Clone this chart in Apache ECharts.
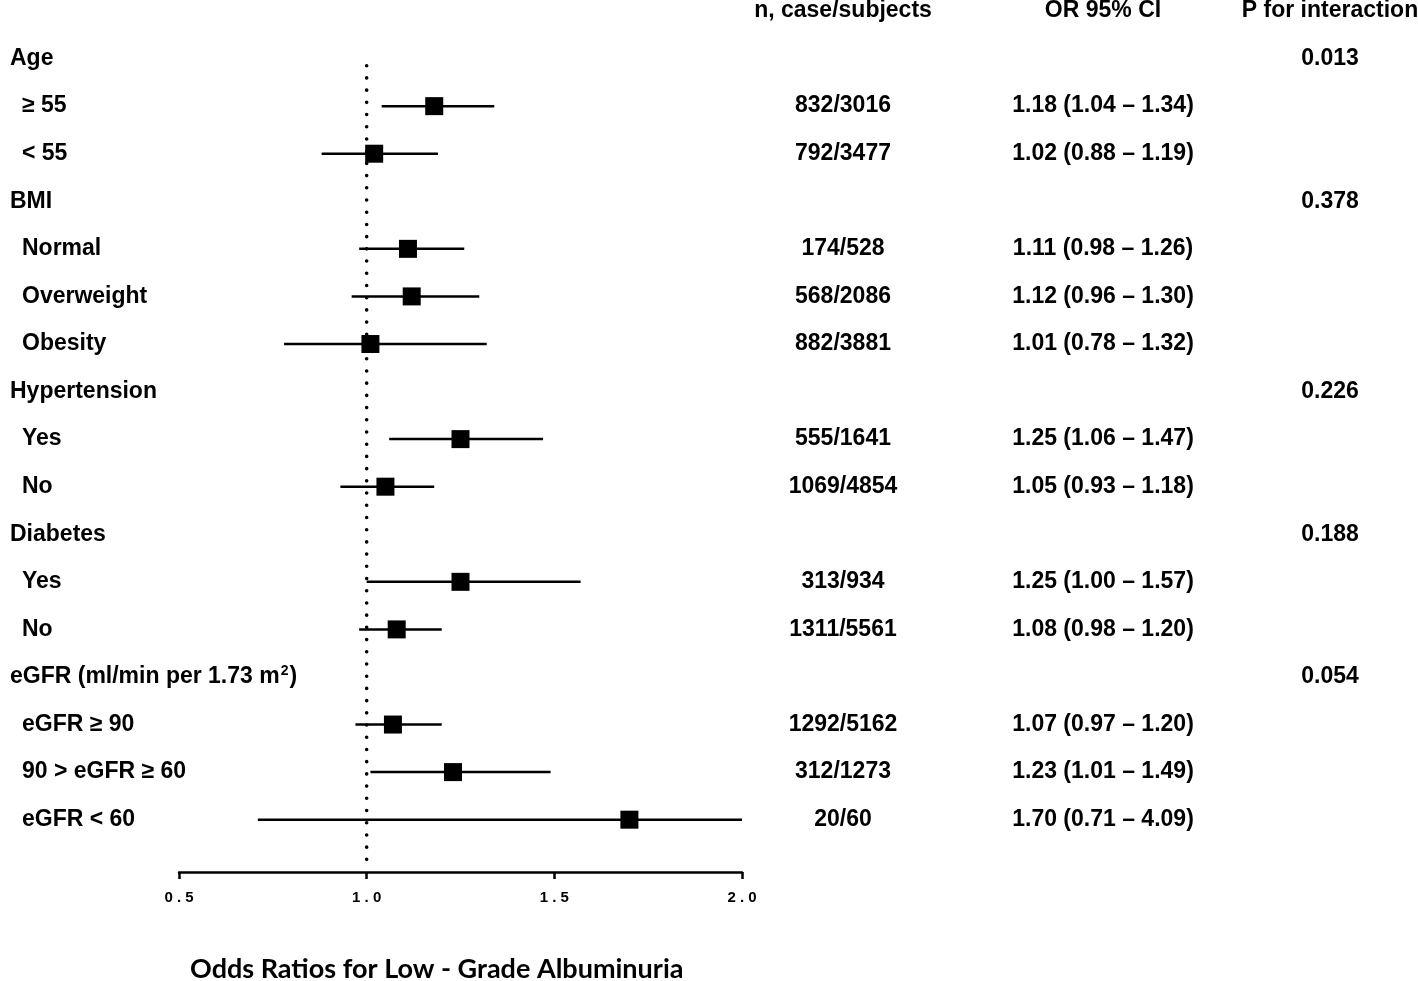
<!DOCTYPE html>
<html>
<head>
<meta charset="utf-8">
<script src="https://cdn.jsdelivr.net/npm/echarts@6/dist/echarts.min.js"></script>
<style>
html,body{margin:0;padding:0;background:#fff;overflow:hidden;}
#main{width:1418px;height:981px;}
</style>
</head>
<body>
<div id="main"></div>
<script>
// ---- data ----
var rowLabels = ['Age', '≥ 55', '< 55', 'BMI', 'Normal', 'Overweight', 'Obesity',
  'Hypertension', 'Yes', 'No', 'Diabetes', 'Yes', 'No',
  'eGFR (ml/min per 1.73 m²)', 'eGFR ≥ 90', '90 > eGFR ≥ 60', 'eGFR < 60'];
var isHeader = [1, 0, 0, 1, 0, 0, 0, 1, 0, 0, 1, 0, 0, 1, 0, 0, 0];
var oddsRatio = [null, 1.18, 1.02, null, 1.11, 1.12, 1.01, null, 1.25, 1.05, null, 1.25, 1.08, null, 1.07, 1.23, 1.70];
var ciLow =     [null, 1.04, 0.88, null, 0.98, 0.96, 0.78, null, 1.06, 0.93, null, 1.00, 0.98, null, 0.97, 1.01, 0.71];
var ciHigh =    [null, 1.34, 1.19, null, 1.26, 1.30, 1.32, null, 1.47, 1.18, null, 1.57, 1.20, null, 1.20, 1.49, 4.09];
var caseSubjects = ['', '832/3016', '792/3477', '', '174/528', '568/2086', '882/3881', '',
  '555/1641', '1069/4854', '', '313/934', '1311/5561', '', '1292/5162', '312/1273', '20/60'];
var pInteraction = ['0.013', '', '', '0.378', '', '', '', '0.226', '', '', '0.188', '', '', '0.054', '', '', ''];
var columnHeaders = ['n, case/subjects', 'OR 95% CI', 'P for interaction'];
var xTicks = [0.5, 1.0, 1.5, 2.0];
var referenceOR = 1.0;
var xTitle = 'Odds Ratios for Low - Grade Albuminuria';

// ---- derived ----
var orText = oddsRatio.map(function (v, i) {
  return v == null ? '' : v.toFixed(2) + ' (' + ciLow[i].toFixed(2) + ' – ' + ciHigh[i].toFixed(2) + ')';
});
var barData = [], pointData = [];
oddsRatio.forEach(function (v, i) {
  if (v != null) {
    barData.push([ciLow[i], ciHigh[i], i]);
    pointData.push([v, i]);
  }
});

function rowText(arr, header) {
  return function (val) {
    if (Math.abs(val - Math.round(val)) > 1e-6) return '';
    var r = Math.round(val);
    if (r === -1) return header || '';
    if (r < 0 || r >= arr.length) return '';
    return arr[r];
  };
}

var FONT = '"Liberation Sans", Arial, sans-serif';
var FS = 23;
var baseY = {
  type: 'value', inverse: true, min: -1, max: 17.1, interval: 1,
  axisLine: { show: false }, axisTick: { show: false }, splitLine: { show: false }
};
function rightAxis(arr, header, margin) {
  return Object.assign({}, baseY, {
    position: 'right',
    axisLabel: {
      margin: margin, align: 'center', color: '#000', fontFamily: FONT,
      fontWeight: 'bold', fontSize: FS, showMinLabel: true, showMaxLabel: true,
      formatter: rowText(arr, header)
    }
  });
}

var chart = echarts.init(document.getElementById('main'), null, { renderer: 'canvas' });
chart.setOption({
  animation: false,
  backgroundColor: '#fff',
  title: {
    text: xTitle, left: 185, top: 951,
    textStyle: { fontFamily: 'Lato, "Open Sans", sans-serif', fontWeight: 'bold', fontSize: 27, color: '#000' }
  },
  grid: { left: 179, right: 1418 - 742, top: 11, bottom: 981 - 872, containLabel: false, outerBoundsMode: 'none' },
  xAxis: {
    type: 'value', min: 0.5, max: 2.0, interval: 0.5,
    axisLine: { show: true, onZero: false, lineStyle: { color: '#000', width: 2.5 } },
    axisTick: { show: true, length: 7, lineStyle: { color: '#000', width: 2.5 } },
    splitLine: { show: false },
    axisLabel: {
      margin: 18, color: '#000', fontFamily: FONT, fontWeight: 'bold', fontSize: 15,
      formatter: function (v) {
        if (xTicks.indexOf(v) < 0) return '';
        return v.toFixed(1).split('').join(' ');
      }
    }
  },
  yAxis: [
    Object.assign({}, baseY, {
      position: 'left',
      axisLabel: {
        margin: 169, align: 'left', color: '#000', fontFamily: FONT,
        fontWeight: 'bold', fontSize: FS, showMinLabel: true, showMaxLabel: true,
        formatter: function (val) {
          var t = rowText(rowLabels)(val);
          if (!t) return '';
          var r = Math.round(val);
          var parts = t.split('²');
          var body = parts.map(function (p) { return '{' + (isHeader[r] ? 'h' : 's') + '|' + p + '}'; });
          if (parts.length === 1) return body[0];
          return body[0] + '{sup|2}' + body.slice(1).map(function (b) { return b.replace('{h|', '{t|'); }).join('');
        },
        rich: {
          h: { fontFamily: FONT, fontWeight: 'bold', fontSize: FS, color: '#000' },
          t: { fontFamily: FONT, fontWeight: 'bold', fontSize: FS, color: '#000' },
          sup: { fontFamily: FONT, fontWeight: 'bold', fontSize: 14, color: '#000', padding: [0, 1, 12, 1] },
          s: { fontFamily: FONT, fontWeight: 'bold', fontSize: FS, color: '#000', padding: [0, 0, 0, 12] }
        }
      }
    }),
    rightAxis(caseSubjects, columnHeaders[0], 101),
    rightAxis(orText, columnHeaders[1], 361),
    rightAxis(pInteraction, columnHeaders[2], 588)
  ],
  series: [
    {
      type: 'line', yAxisIndex: 0, symbol: 'none', silent: true, z: 1,
      data: [[referenceOR, 0.15], [referenceOR, 16.9]],
      lineStyle: { color: '#000', width: 3.6, type: [0.01, 12.2], cap: 'round', opacity: 1 }
    },
    {
      type: 'custom', yAxisIndex: 0, z: 2, clip: true,
      data: barData,
      renderItem: function (params, api) {
        var p1 = api.coord([api.value(0), api.value(2)]);
        var p2 = api.coord([api.value(1), api.value(2)]);
        var cs = params.coordSys;
        var x1 = Math.max(p1[0], cs.x), x2 = Math.min(p2[0], cs.x + cs.width + 2);
        return {
          type: 'line',
          shape: { x1: x1, y1: p1[1], x2: x2, y2: p2[1] },
          style: { stroke: '#000', lineWidth: 2.5 }
        };
      }
    },
    {
      type: 'scatter', yAxisIndex: 0, z: 3, symbol: 'rect', symbolSize: 18,
      itemStyle: { color: '#000', opacity: 1 },
      data: pointData
    }
  ]
});
</script>
</body>
</html>
